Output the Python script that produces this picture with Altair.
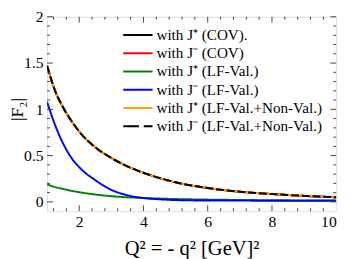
import altair as alt
import pandas as pd

# ---- data ----
q2 = [1, 1.25, 1.5, 1.75, 2, 2.5, 3, 3.5, 4, 4.5, 5, 6, 7, 8, 9, 10]
cov_plus = [1.47, 1.20, 1.02, 0.88, 0.76, 0.59, 0.475, 0.385, 0.315, 0.258, 0.212, 0.15, 0.11, 0.085, 0.065, 0.05]
cov_minus = [1.47, 1.20, 1.02, 0.88, 0.76, 0.59, 0.475, 0.385, 0.315, 0.258, 0.212, 0.15, 0.11, 0.085, 0.065, 0.05]
lfv_plus = [0.19, 0.16, 0.14, 0.12, 0.105, 0.08, 0.062, 0.05, 0.042, 0.036, 0.031, 0.025, 0.021, 0.018, 0.016, 0.014]
lfv_minus = [1.08, 0.83, 0.63, 0.48, 0.375, 0.235, 0.13, 0.072, 0.042, 0.028, 0.02, 0.015, 0.014, 0.013, 0.013, 0.013]
full_plus = [1.47, 1.20, 1.02, 0.88, 0.76, 0.59, 0.475, 0.385, 0.315, 0.258, 0.212, 0.15, 0.11, 0.085, 0.065, 0.05]
full_minus = [1.47, 1.20, 1.02, 0.88, 0.76, 0.59, 0.475, 0.385, 0.315, 0.258, 0.212, 0.15, 0.11, 0.085, 0.065, 0.05]

labels = [
    "with J\u207a (COV).",
    "with J\u207b (COV)",
    "with J\u207a (LF-Val.)",
    "with J\u207b (LF-Val.)",
    "with J\u207a (LF-Val.+Non-Val.)",
    "with J\u207b (LF-Val.+Non-Val.)",
]
colors = ["#000000", "#ff0000", "#008000", "#0000ff", "#ffa500", "#000000"]
dashes = [[1, 0], [1, 0], [1, 0], [1, 0], [1, 0], [8, 3]]
series = [cov_plus, cov_minus, lfv_plus, lfv_minus, full_plus, full_minus]

x_ticks = [2, 4, 6, 8, 10]
y_ticks = [0, 0.5, 1, 1.5, 2]

PAD_TOP = 6
W, H = 296, 213 - 8 - PAD_TOP
FONT = "Liberation Serif, Times New Roman, Times, serif"

xs = alt.Scale(domain=[1, 10], nice=False, zero=False)
ys = alt.Scale(domain=[-0.1, 2], nice=False, zero=False)

layers = []
base_df = pd.DataFrame({"q2": q2, "f": cov_plus})
axes = alt.Chart(base_df).mark_point(opacity=0).encode(
    x=alt.X("q2:Q", scale=xs, axis=alt.Axis(
        values=x_ticks, ticks=False, domain=False, grid=False, format="d",
        labelFont=FONT, labelFontSize=16, labelColor="black", labelPadding=3,
        title="Q\u00b2 = - q\u00b2 [GeV]\u00b2", titleFont=FONT, titleFontSize=21,
        titleFontWeight="normal", titleColor="black", titlePadding=8)),
    y=alt.Y("f:Q", scale=ys, axis=alt.Axis(
        values=y_ticks, ticks=False, domain=False, grid=False, format="~g",
        labelFont=FONT, labelFontSize=16, labelColor="black", labelPadding=4,
        title="|F\u2082|", titleFont=FONT, titleFontSize=18, titleFontWeight="normal",
        titleColor="black", titleX=-21, titleY=H / 2 - 5)),
)
layers.append(axes)

# curves
for vals, c, d in zip(series, colors, dashes):
    df = pd.DataFrame({"q2": q2, "f": vals})
    layers.append(
        alt.Chart(df).mark_line(color=c, strokeWidth=2, strokeDash=d, interpolate="monotone", clip=True)
        .encode(x=alt.X("q2:Q", scale=xs), y=alt.Y("f:Q", scale=ys))
    )

# inward ticks on all four sides
x_minor = [round(1.2 + 0.4 * i, 2) for i in range(22)]
x_minor = [v for v in x_minor if v < 10 and abs(v / 2 - round(v / 2)) > 1e-6]
y_minor = [round(-0.1 + 0.1 * i, 2) for i in range(1, 21)]
y_minor = [v for v in y_minor if abs(v * 2 - round(v * 2)) > 1e-6]
tick_col = "#444444"
for vals, ln in ((x_ticks[:-1], 6), (x_minor, 3)):
    tdf = pd.DataFrame({"v": vals})
    layers.append(alt.Chart(tdf).mark_rule(color=tick_col, strokeWidth=1).encode(
        x=alt.X("v:Q", scale=xs), y=alt.value(H), y2=alt.value(H - ln)))
    layers.append(alt.Chart(tdf).mark_rule(color=tick_col, strokeWidth=1).encode(
        x=alt.X("v:Q", scale=xs), y=alt.value(0), y2=alt.value(ln)))
for vals, ln in ((y_ticks, 6), (y_minor, 3)):
    tdf = pd.DataFrame({"v": vals})
    layers.append(alt.Chart(tdf).mark_rule(color=tick_col, strokeWidth=1).encode(
        y=alt.Y("v:Q", scale=ys), x=alt.value(0), x2=alt.value(ln)))
    layers.append(alt.Chart(tdf).mark_rule(color=tick_col, strokeWidth=1).encode(
        y=alt.Y("v:Q", scale=ys), x=alt.value(W), x2=alt.value(W - ln)))

# manual legend
for i, (lab, c) in enumerate(zip(labels, colors)):
    py = 32.7 + 18.67 * i - 8 - PAD_TOP
    ldf = pd.DataFrame({"label": [lab]})
    dash = [16, 5] if i == 5 else [1, 0]
    layers.append(alt.Chart(ldf).mark_rule(color=c, strokeWidth=2, strokeDash=dash).encode(
        x=alt.value(78), x2=alt.value(108), y=alt.value(py)))
    layers.append(alt.Chart(ldf).mark_text(align="left", baseline="middle", font=FONT,
                                           fontSize=15.5, color="black").encode(
        x=alt.value(112), y=alt.value(py), text="label:N"))

chart = alt.layer(*layers).properties(
    width=W, height=H,
    autosize=alt.AutoSizeParams(type="none"),
    padding={"left": 40, "top": PAD_TOP, "right": 10, "bottom": 46},
).configure_view(stroke="#444444", strokeWidth=1.5).configure(background="white")

chart.save("out.html", embed_options={"renderer": "svg", "actions": False})
